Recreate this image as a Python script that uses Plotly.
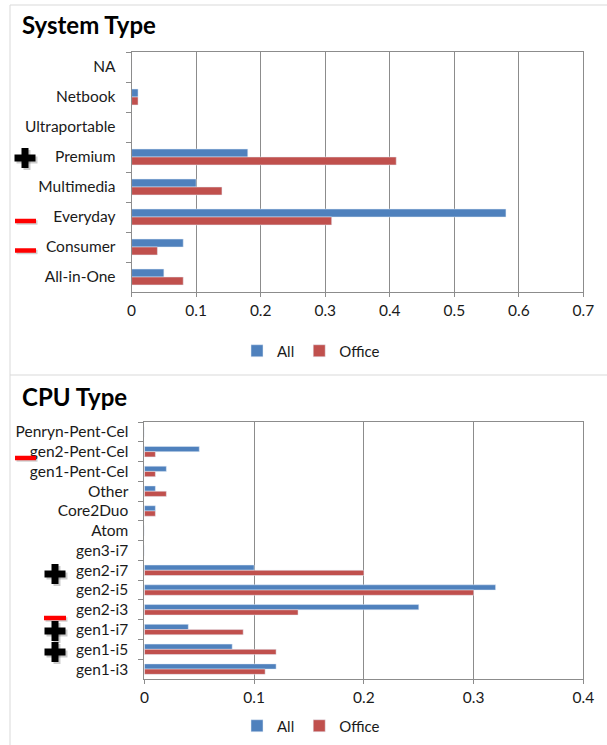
import plotly.graph_objects as go

# ---- data ----
sys_categories = ["NA", "Netbook", "Ultraportable", "Premium", "Multimedia",
                  "Everyday", "Consumer", "All-in-One"]
sys_all = [0, 0.01, 0, 0.18, 0.10, 0.58, 0.08, 0.05]
sys_office = [0, 0.01, 0, 0.41, 0.14, 0.31, 0.04, 0.08]

cpu_categories = ["Penryn-Pent-Cel", "gen2-Pent-Cel", "gen1-Pent-Cel", "Other",
                  "Core2Duo", "Atom", "gen3-i7", "gen2-i7", "gen2-i5", "gen2-i3",
                  "gen1-i7", "gen1-i5", "gen1-i3"]
cpu_all = [0, 0.05, 0.02, 0.01, 0.01, 0, 0, 0.10, 0.32, 0.25, 0.04, 0.08, 0.12]
cpu_office = [0, 0.01, 0.01, 0.02, 0.01, 0, 0, 0.20, 0.30, 0.14, 0.09, 0.12, 0.11]

sys_ticks = [0, 0.1, 0.2, 0.3, 0.4, 0.5, 0.6, 0.7]
cpu_ticks = [0, 0.1, 0.2, 0.3, 0.4]

W, H = 607, 745
BLUE = "#4F81BD"
RED = "#C0504D"
GRID = "#8C8C8C"
FONT = "Lato"


def px(x):
    return x / W


def py(y):
    return 1 - y / H


fig = go.Figure()
fig.add_trace(go.Bar(y=sys_categories, x=sys_all, name="All", orientation="h",
                     marker=dict(color=BLUE), xaxis="x", yaxis="y", legend="legend"))
fig.add_trace(go.Bar(y=sys_categories, x=sys_office, name="Office", orientation="h",
                     marker=dict(color=RED), xaxis="x", yaxis="y", legend="legend"))
fig.add_trace(go.Bar(y=cpu_categories, x=cpu_all, name="All", orientation="h",
                     marker=dict(color=BLUE), xaxis="x2", yaxis="y2", legend="legend2"))
fig.add_trace(go.Bar(y=cpu_categories, x=cpu_office, name="Office", orientation="h",
                     marker=dict(color=RED), xaxis="x2", yaxis="y2", legend="legend2"))

tickfont = dict(family=FONT, size=15.5, color="#1a1a1a")

xcommon = dict(showgrid=True, gridcolor=GRID, gridwidth=1, showline=True,
               linecolor=GRID, linewidth=1, mirror=True, ticks="outside",
               ticklen=4, tickcolor=GRID, tickfont=tickfont, zeroline=False,
               fixedrange=True, automargin=False)
ycommon = dict(showgrid=False, showline=True, linecolor=GRID, linewidth=1,
               mirror=True, ticks="outside", ticklen=5, tickcolor=GRID,
               tickson="boundaries", tickfont=tickfont, autorange="reversed",
               type="category", ticklabelstandoff=12, fixedrange=True,
               automargin=False)

shapes = []


def rect(x0, y0, x1, y1, color):
    shapes.append(dict(type="rect", xref="paper", yref="paper",
                       x0=px(x0), x1=px(x1), y0=py(y1), y1=py(y0),
                       fillcolor=color, line=dict(width=0), layer="above"))


def plus(cx, cy, w=21, h=20, t=7):
    rect(cx - w / 2 + 2, cy - t / 2 + 2, cx + w / 2 + 2, cy + t / 2 + 2, "rgba(0,0,0,0.2)")
    rect(cx - t / 2 + 2, cy - h / 2 + 2, cx + t / 2 + 2, cy + h / 2 + 2, "rgba(0,0,0,0.2)")
    rect(cx - w / 2, cy - t / 2, cx + w / 2, cy + t / 2, "black")
    rect(cx - t / 2, cy - h / 2, cx + t / 2, cy + h / 2, "black")


def dash(x0, x1, cy, t=4.5):
    rect(x0 + 1.5, cy - t / 2 + 1.5, x1 + 1.5, cy + t / 2 + 1.5, "rgba(0,0,0,0.18)")
    rect(x0, cy - t / 2, x1, cy + t / 2, "#FF0000")


# frame lines
for (x0, y0, x1, y1) in [(10, 5, 607, 5), (10, 5, 10, 745), (10, 375, 607, 375)]:
    shapes.append(dict(type="line", xref="paper", yref="paper",
                       x0=px(x0), x1=px(x1), y0=py(y0), y1=py(y1),
                       line=dict(color="#D9D9D9", width=1)))

plus(25, 158)
dash(15, 36, 221)
dash(15, 36, 250.5)
dash(15, 36, 458)
plus(55, 574)
dash(44, 66, 618)
plus(55, 631)
plus(55, 652)

legend_common = dict(orientation="h", xanchor="center", yanchor="middle",
                     font=dict(family=FONT, size=15), itemwidth=30,
                     traceorder="normal")

fig.update_layout(
    width=W, height=H, autosize=False,
    margin=dict(l=0, r=0, t=0, b=0, pad=0),
    paper_bgcolor="white", plot_bgcolor="white",
    barmode="group", bargap=0.47, bargroupgap=0,
    showlegend=True,
    font=dict(family=FONT, color="#1a1a1a"),
    xaxis=dict(domain=[px(131.6), px(583.4)], anchor="y", range=[0, 0.7],
               tickvals=sys_ticks, **xcommon),
    yaxis=dict(domain=[py(292), py(52)], anchor="x", **ycommon),
    xaxis2=dict(domain=[px(144.4), px(583.4)], anchor="y2", range=[0, 0.4],
                tickvals=cpu_ticks, **xcommon),
    yaxis2=dict(domain=[py(679), py(422)], anchor="x2", **ycommon),
    legend=dict(x=px(311), y=py(351), **legend_common),
    legend2=dict(x=px(311), y=py(726), **legend_common),
    annotations=[
        dict(text="<b>System Type</b>", xref="paper", yref="paper",
             x=px(20), y=py(25), xanchor="left", yanchor="middle",
             showarrow=False, font=dict(family=FONT, size=24, color="black")),
        dict(text="<b>CPU Type</b>", xref="paper", yref="paper",
             x=px(20), y=py(396), xanchor="left", yanchor="middle",
             showarrow=False, font=dict(family=FONT, size=24, color="black")),
    ],
    shapes=shapes,
)

fig.write_html(
    "out.html",
    config={"displayModeBar": False, "responsive": False},
    post_script=("document.body.style.margin='0';document.body.style.padding='0';"
                 "document.body.style.overflow='hidden';"
                 "document.documentElement.style.overflow='hidden';"),
)
